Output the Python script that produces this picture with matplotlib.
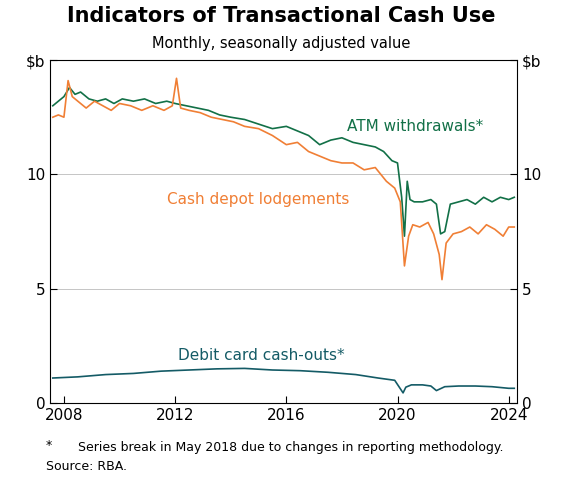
import matplotlib.pyplot as plt
import numpy as np

atm_t = [2007.6,2007.8,2008.0,2008.2,2008.4,2008.6,2008.9,2009.2,2009.5,2009.8,2010.1,2010.5,2010.9,2011.3,2011.7,2012.0,2012.4,2012.8,2013.2,2013.6,2014.0,2014.5,2015.0,2015.5,2016.0,2016.4,2016.8,2017.2,2017.6,2018.0,2018.4,2018.8,2019.2,2019.5,2019.8,2020.0,2020.15,2020.25,2020.35,2020.45,2020.6,2020.9,2021.2,2021.4,2021.55,2021.7,2021.9,2022.2,2022.5,2022.8,2023.1,2023.4,2023.7,2024.0,2024.2]
atm_v = [13.0,13.2,13.4,13.8,13.5,13.6,13.3,13.2,13.3,13.1,13.3,13.2,13.3,13.1,13.2,13.1,13.0,12.9,12.8,12.6,12.5,12.4,12.2,12.0,12.1,11.9,11.7,11.3,11.5,11.6,11.4,11.3,11.2,11.0,10.6,10.5,9.0,7.3,9.7,8.9,8.8,8.8,8.9,8.7,7.4,7.5,8.7,8.8,8.9,8.7,9.0,8.8,9.0,8.9,9.0]
cd_t = [2007.6,2007.8,2008.0,2008.15,2008.3,2008.5,2008.8,2009.1,2009.4,2009.7,2010.0,2010.4,2010.8,2011.2,2011.6,2011.9,2012.05,2012.2,2012.5,2012.9,2013.3,2013.7,2014.1,2014.5,2015.0,2015.5,2016.0,2016.4,2016.8,2017.2,2017.6,2018.0,2018.4,2018.8,2019.2,2019.6,2019.9,2020.1,2020.25,2020.4,2020.55,2020.8,2021.1,2021.3,2021.5,2021.6,2021.75,2022.0,2022.3,2022.6,2022.9,2023.2,2023.5,2023.8,2024.0,2024.2]
cd_v = [12.5,12.6,12.5,14.1,13.4,13.2,12.9,13.2,13.0,12.8,13.1,13.0,12.8,13.0,12.8,13.0,14.2,12.9,12.8,12.7,12.5,12.4,12.3,12.1,12.0,11.7,11.3,11.4,11.0,10.8,10.6,10.5,10.5,10.2,10.3,9.7,9.4,8.8,6.0,7.3,7.8,7.7,7.9,7.4,6.5,5.4,7.0,7.4,7.5,7.7,7.4,7.8,7.6,7.3,7.7,7.7]
db_t = [2007.6,2008.5,2009.5,2010.5,2011.5,2012.5,2013.5,2014.5,2015.5,2016.5,2017.5,2018.5,2019.3,2019.9,2020.2,2020.3,2020.5,2020.9,2021.2,2021.4,2021.7,2022.2,2022.8,2023.4,2024.0,2024.2]
db_v = [1.1,1.15,1.25,1.3,1.4,1.45,1.5,1.52,1.45,1.42,1.35,1.25,1.1,1.0,0.45,0.7,0.8,0.8,0.75,0.55,0.72,0.75,0.75,0.72,0.65,0.65]

green = '#127047'; orange = '#f07f35'; teal = '#145b66'
fig = plt.figure(figsize=(5.62,4.84), dpi=100)
ax = fig.add_axes([0.089,0.167,0.831,0.709])
ax.plot(atm_t, atm_v, color=green, lw=1.2)
ax.plot(cd_t, cd_v, color=orange, lw=1.2)
ax.plot(db_t, db_v, color=teal, lw=1.2)
ax.set_xlim(2007.5, 2024.3)
ax.set_ylim(0, 15)
ax.set_yticks([0,5,10,15]); ax.set_yticklabels(['0','5','10','$b'])
ax.set_xticks([2008,2012,2016,2020,2024])
ax.tick_params(direction='in', labelsize=11, right=True, labelright=True, length=5)
for s in ax.spines.values(): s.set_linewidth(0.8)
for y in [5,10]:
    ax.axhline(y, color='#bbbbbb', lw=0.6, zorder=0)
ax.text(2018.2, 11.9, 'ATM withdrawals*', color=green, fontsize=11)
ax.text(2011.7, 8.7, 'Cash depot lodgements', color=orange, fontsize=11)
ax.text(2012.1, 1.9, 'Debit card cash-outs*', color=teal, fontsize=11)
fig.text(0.5,0.955,'Indicators of Transactional Cash Use',ha='center',fontsize=15,fontweight='bold')
fig.text(0.5,0.9,'Monthly, seasonally adjusted value',ha='center',fontsize=10.5)
fig.text(0.082,0.072,'*',fontsize=9)
fig.text(0.139,0.068,'Series break in May 2018 due to changes in reporting methodology.',fontsize=9)
fig.text(0.082,0.028,'Source: RBA.',fontsize=9)
fig.savefig('out.png', dpi=100)
